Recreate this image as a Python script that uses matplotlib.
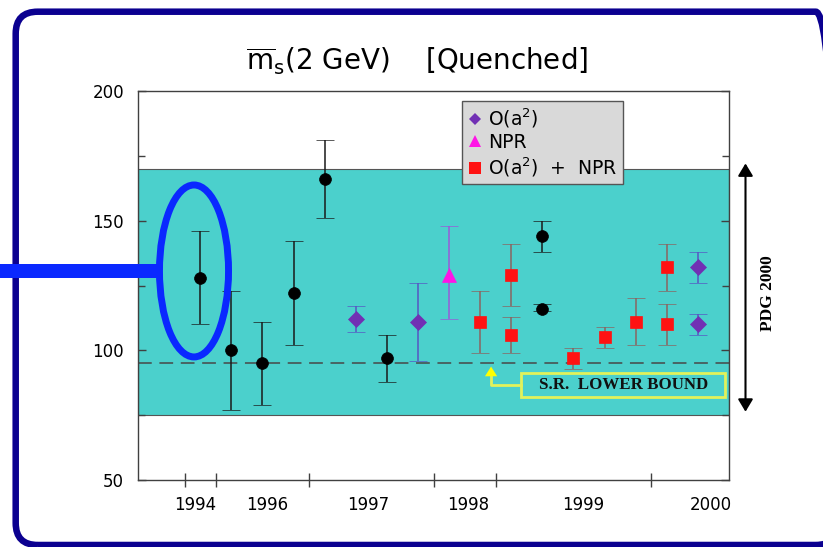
import matplotlib
matplotlib.use('Agg')
import numpy as np
import matplotlib.pyplot as plt
import matplotlib.patches as mpatches
import matplotlib.transforms as mtransforms
from matplotlib.lines import Line2D

plt.rcParams['font.family'] = 'DejaVu Sans'
plt.rcParams['mathtext.fontset'] = 'custom'
plt.rcParams['mathtext.rm'] = 'DejaVu Sans'
plt.rcParams['mathtext.it'] = 'DejaVu Sans:italic'

# lattice results for m_s(2 GeV) in MeV, one slot per calculation
black_x = [0, 1, 2, 3, 4, 6, 11, 11]
black_y = [128, 100, 95, 122, 166, 97, 144, 116]
black_lo = [110, 77, 79, 102, 151, 88, 138, 115]
black_hi = [146, 123, 111, 142, 181, 106, 150, 118]

oa2_x = [5, 7, 16, 16]
oa2_y = [112, 111, 132, 110]
oa2_lo = [107, 96, 126, 106]
oa2_hi = [117, 126, 138, 114]

npr_x = [8]
npr_y = [129]
npr_lo = [112]
npr_hi = [148]

both_x = [9, 10, 10, 12, 13, 14, 15, 15]
both_y = [111, 129, 106, 97, 105, 111, 132, 110]
both_lo = [99, 117, 99, 93, 101, 102, 123, 102]
both_hi = [123, 141, 113, 101, 109, 120, 141, 118]

pdg_lo, pdg_hi = 75, 170
sr_bound = 95

year_ticks = [-0.5, 0.5, 3.5, 7.5, 9.5, 14.5]
year_labels = ['1994', '1996', '1997', '1998', '1999', '2000']
year_label_x = [-0.16, 2.16, 5.4, 8.6, 12.3, 16.4]

purple = '#7130b4'
magenta = '#ff14e6'
red = '#ff1212'

fig = plt.figure(figsize=(8.23, 5.47), dpi=100)
ax = fig.add_axes([0.1677, 0.1219, 0.7181, 0.7123])
ax.set_xlim(-2, 17)
ax.set_ylim(50, 200)

# PDG 2000 range and sum-rule lower bound
ax.axhspan(pdg_lo, pdg_hi, facecolor='#4bd0cc', edgecolor='#555555', lw=0.8, zorder=0)
ax.axhline(sr_bound, color='#484848', lw=1.1, dashes=(9, 5), zorder=1)


def draw(x, y, lo, hi, marker, mcolor, ecolor, ms):
    yerr = [np.subtract(y, lo), np.subtract(hi, y)]
    _, caps, _ = ax.errorbar(x, y, yerr=yerr, fmt=marker, color=mcolor, ecolor=ecolor,
                             ms=ms, mec=mcolor, mew=0.5, capsize=6.5,
                             elinewidth=1.1, capthick=1.1, zorder=3)
    for c in caps:
        c.set_markeredgecolor(ecolor)


draw(black_x, black_y, black_lo, black_hi, 'o', 'black', '#1a1a1a', 8.5)
draw(oa2_x, oa2_y, oa2_lo, oa2_hi, 'D', purple, '#5656c4', 8)
draw(npr_x, npr_y, npr_lo, npr_hi, '^', magenta, '#9a5ad8', 10)
draw(both_x, both_y, both_lo, both_hi, 's', red, '#8a6460', 9)

handles = [Line2D([], [], marker='D', color=purple, ls='none', ms=6.5, mew=0),
           Line2D([], [], marker='^', color=magenta, ls='none', ms=9, mew=0),
           Line2D([], [], marker='s', color=red, ls='none', ms=8, mew=0)]
labels = [r'O(a$^2$)', 'NPR', r'O(a$^2$)  +  NPR ']
leg = ax.legend(handles, labels, loc='upper left', bbox_to_anchor=(0.548, 0.974),
                borderaxespad=0, fontsize=13.5, frameon=True, fancybox=False,
                framealpha=1, facecolor='#d9d9d9', edgecolor='#555555',
                handlelength=0.8, handletextpad=0.3, labelspacing=0.18,
                borderpad=0.28)
leg.get_frame().set_linewidth(1)
leg.set_zorder(4)

for s in ax.spines.values():
    s.set_color('#404040')
    s.set_linewidth(1)

ax.set_yticks([50, 100, 150, 200])
ax.set_yticks([75, 125, 175], minor=True)
ax.tick_params(axis='y', which='both', direction='in', left=True, right=True,
               length=6, width=1, color='#404040', labelsize=12, pad=10)
ax.tick_params(axis='y', which='minor', length=5)
ax.set_xticks(year_ticks)
ax.set_xticklabels([])
ax.tick_params(axis='x', direction='inout', length=10, width=1, color='#404040')

xlab = mtransforms.blended_transform_factory(ax.transData, fig.transFigure)
for xp, lab in zip(year_label_x, year_labels):
    ax.text(xp, 0.077, lab, transform=xlab, ha='center', va='center', fontsize=12)

fig.text(0.507, 0.888, r'$\overline{\mathrm{m}}_{\mathrm{s}}$(2 GeV)    [Quenched]',
         ha='center', va='center', fontsize=20)

# sum-rule box with arrow pointing at the dashed line
yellow_line = '#e2f25a'
ax.add_patch(mpatches.Rectangle((10.32, 81.9), 6.56, 9.4, fill=False,
                                edgecolor=yellow_line, lw=2, zorder=4))
ax.text(13.6, 86.6, 'S.R.  LOWER BOUND', ha='center', va='center',
        family='Liberation Serif', weight='bold', fontsize=12.2, color='#111111', zorder=4)
ax.plot([10.32, 9.35, 9.35], [86.65, 86.65, 90.5], color=yellow_line, lw=2, zorder=4)
ax.annotate('', xy=(9.35, 93.8), xytext=(9.35, 89.5),
            arrowprops=dict(arrowstyle='-|>,head_length=0.35,head_width=0.22',
                            color='#ffff00', lw=0, mutation_scale=20,
                            shrinkA=0, shrinkB=0), zorder=4)

# PDG 2000 range marker to the right of the frame
ax.annotate('', xy=(17.53, 172), xytext=(17.53, 76.4), annotation_clip=False,
            arrowprops=dict(arrowstyle='<|-|>,head_length=0.5,head_width=0.3',
                            color='black', lw=1.5, mutation_scale=15,
                            shrinkA=0, shrinkB=0))
ax.text(18.26, 122, 'PDG 2000', rotation=90, ha='center', va='center',
        family='Liberation Serif', weight='bold', fontsize=12.5, clip_on=False)

# highlighted 1994 result
blue = '#0a28ff'
ax.add_patch(mpatches.Ellipse((-0.2, 130.6), 2.22, 66.2, fill=False,
                              edgecolor=blue, lw=5, zorder=6, clip_on=False))

# slide frame and pointer bar
frame = mpatches.FancyBboxPatch((0.157, 0.02), 8.22, 5.333,
                                boxstyle='round,pad=0,rounding_size=0.22',
                                transform=fig.dpi_scale_trans, fill=False,
                                edgecolor='#0b0090', lw=4.7, zorder=1)
fig.patches.append(frame)
bar = mpatches.Rectangle((0, (547 - 277.7) / 547), 160 / 823, 13.4 / 547,
                         transform=fig.transFigure, facecolor=blue,
                         edgecolor='none', zorder=2)
fig.patches.append(bar)

fig.savefig('out.png', dpi=100)
